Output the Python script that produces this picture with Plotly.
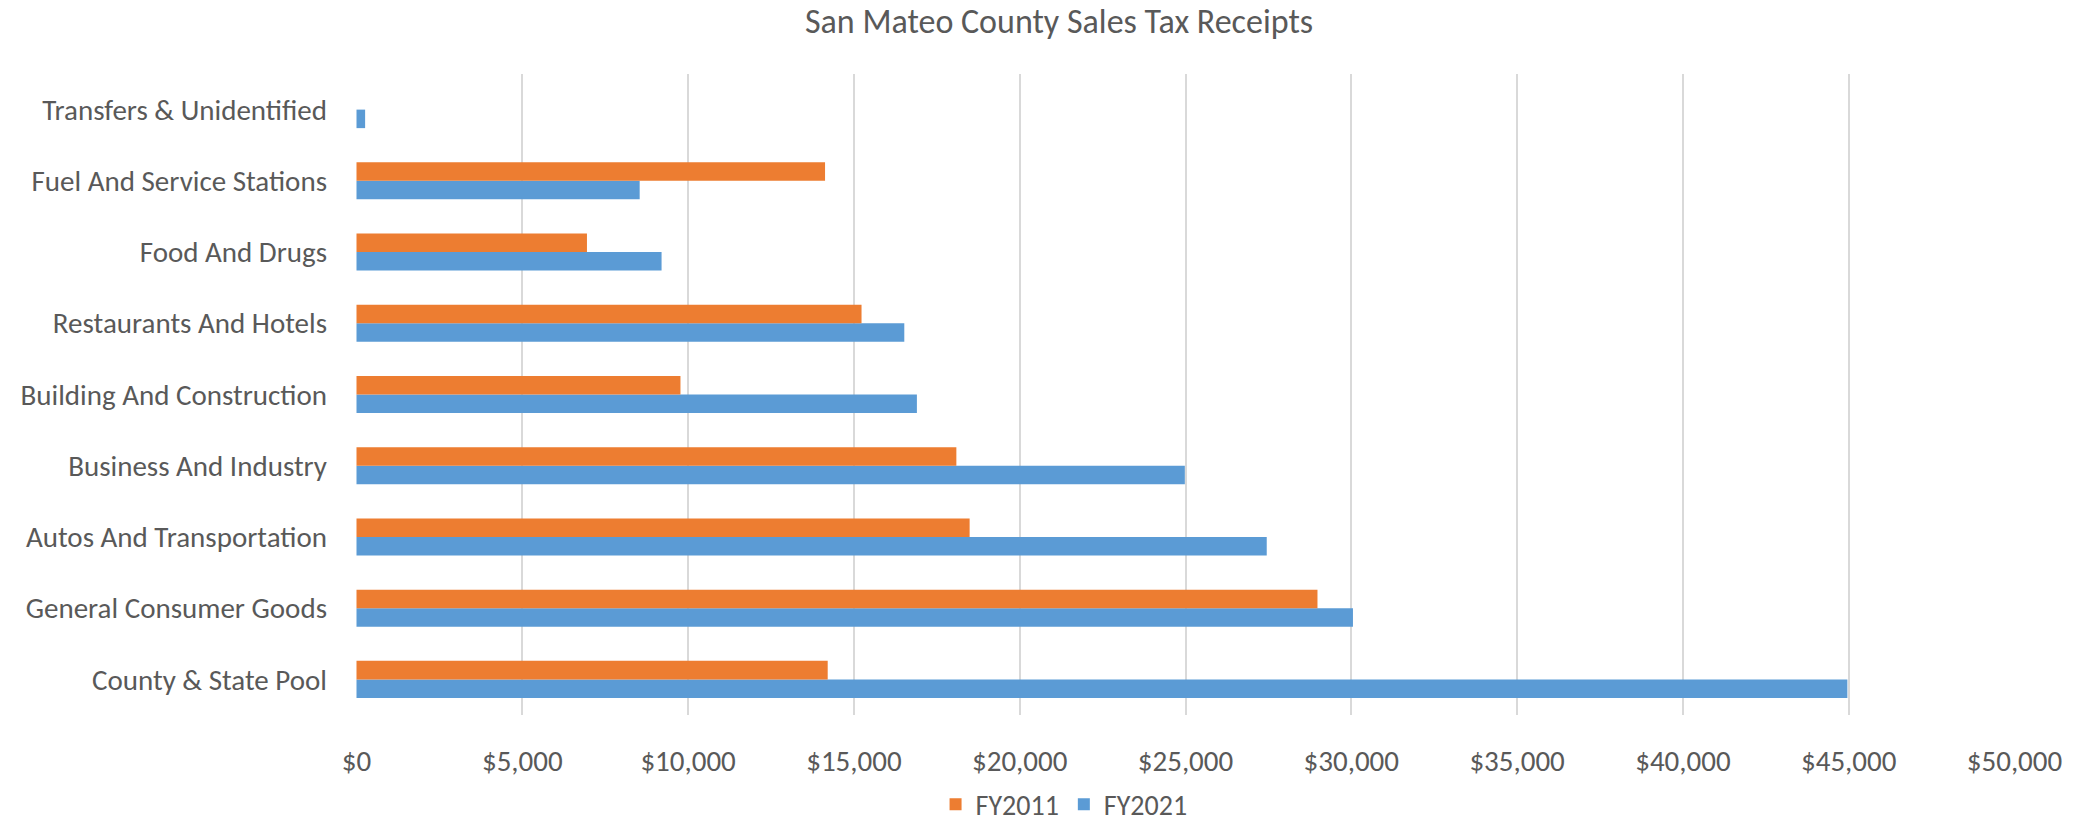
import plotly.graph_objects as go

categories = [
    "County & State Pool",
    "General Consumer Goods",
    "Autos And Transportation",
    "Business And Industry",
    "Building And Construction",
    "Restaurants And Hotels",
    "Food And Drugs",
    "Fuel And Service Stations",
    "Transfers & Unidentified",
]
fy2011 = [14210, 28980, 18490, 18090, 9770, 15230, 6950, 14130, 0]
fy2021 = [44960, 30050, 27450, 24980, 16900, 16520, 9200, 8540, 260]

tick_vals = [0, 5000, 10000, 15000, 20000, 25000, 30000, 35000, 40000, 45000, 50000]
tick_text = ["$0", "$5,000", "$10,000", "$15,000", "$20,000", "$25,000",
             "$30,000", "$35,000", "$40,000", "$45,000", "$50,000"]

FONT = "Calibri, Carlito, Lato, sans-serif"
GREY = "#595959"

fig = go.Figure()
fig.add_trace(go.Bar(
    y=categories, x=fy2021, name="FY2021", orientation="h",
    marker=dict(color="#5B9BD5", line=dict(width=0)), legendrank=2,
))
fig.add_trace(go.Bar(
    y=categories, x=fy2011, name="FY2011", orientation="h",
    marker=dict(color="#ED7D31", line=dict(width=0)), legendrank=1,
))

fig.update_layout(
    width=2088, height=826,
    margin=dict(l=356, r=73, t=74, b=111, autoexpand=False),
    paper_bgcolor="white", plot_bgcolor="white",
    barmode="group", bargap=0.48, bargroupgap=0,
    font=dict(family=FONT, color=GREY, size=29),
    title=dict(text="San Mateo County Sales Tax Receipts", x=0.5072, xref="container",
               y=0.9885, yanchor="top", font=dict(size=34, color=GREY, family=FONT)),
    legend=dict(orientation="h", x=0.4268, xanchor="center", y=0.026, yanchor="middle",
                yref="container",
                font=dict(size=28, color=GREY, family=FONT), traceorder="normal",
                itemwidth=30),
    xaxis=dict(range=[-15, 50015], tickvals=tick_vals, ticktext=tick_text,
               showgrid=True, gridcolor="#D9D9D9", gridwidth=1.5, automargin=False,
               zeroline=False, showline=False, ticks="", ticklabelstandoff=26,
               tickfont=dict(size=29, color=GREY, family=FONT)),
    yaxis=dict(showgrid=False, zeroline=False, showline=False, ticks="", automargin=False,
               ticklabelstandoff=28, tickfont=dict(size=29, color=GREY, family=FONT)),
)

fig.write_html("out.html", config={"displayModeBar": False},
               post_script="document.body.style.margin='0';")
